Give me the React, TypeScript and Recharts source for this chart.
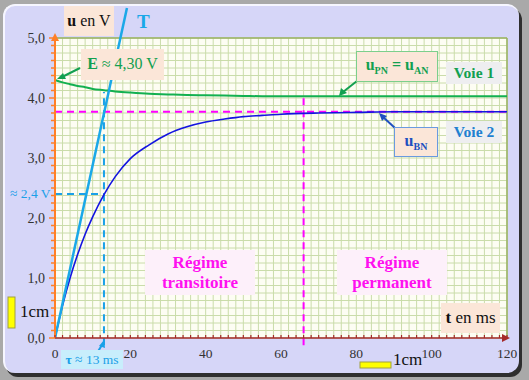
import { ComposedChart, Line, XAxis, YAxis, CartesianGrid, ReferenceLine } from "recharts";

const tMs = [0, 2, 4, 6, 8, 10, 13, 16, 20, 25, 30, 35, 40, 45, 50, 55, 60, 70, 80, 90, 100, 110, 120];
const uBN = [0, 0.54, 1.0, 1.39, 1.73, 2.02, 2.39, 2.69, 2.99, 3.22, 3.4, 3.52, 3.6, 3.65, 3.69, 3.71, 3.73, 3.75, 3.76, 3.77, 3.77, 3.77, 3.77];
const uPN = [4.3, 4.26, 4.23, 4.2, 4.18, 4.15, 4.13, 4.11, 4.09, 4.07, 4.06, 4.05, 4.045, 4.04, 4.035, 4.03, 4.03, 4.03, 4.03, 4.03, 4.03, 4.03, 4.03];

// tangent at origin (T)
const tangentT = [0, 19.1];
const tangentU = [0, 5.5];

const uFinal = 3.77;
const tau = 13;
const uTau = 2.4;
const tPermanent = 66;

const xMajor = [0, 20, 40, 60, 80, 100, 120];
const xLabels = ["0", "20", "40", "60", "80", "100", "120"];
const yLabels = ["0,0", "1,0", "2,0", "3,0", "4,0", "5,0"];

const data = tMs.map((t, i) => ({ t, uBN: uBN[i], uPN: uPN[i] }));
const xTicks = Array.from({ length: 61 }, (_, i) => i * 2);
const yTicks = Array.from({ length: 41 }, (_, i) => i * 0.125);

const serif = "'Liberation Serif', 'DejaVu Serif', serif";

function YTick(props: any) {
  const { x, y, payload } = props;
  const v = payload.value;
  const major = Math.abs(v - Math.round(v)) < 1e-6;
  return (
    <g>
      <line x1={x - (major ? 6 : 4)} x2={x} y1={y} y2={y} stroke="#ff7f27" strokeWidth={1.5} />
      {major && (
        <text x={x - 10} y={y} dy={5} textAnchor="end" fontFamily={serif} fontSize={14} fill="#333">
          {yLabels[Math.round(v)]}
        </text>
      )}
    </g>
  );
}

function XTick(props: any) {
  const { x, y, payload } = props;
  const v = payload.value;
  const idx = xMajor.indexOf(v);
  return (
    <g>
      <line x1={x} x2={x} y1={y - 3} y2={y} stroke="#a52a2a" strokeWidth={1.2} />
      {idx >= 0 && (
        <text x={x} y={y + 20} textAnchor="middle" fontFamily={serif} fontSize={13.5} fill="#333">
          {xLabels[idx]}
        </text>
      )}
    </g>
  );
}

const box = (extra: any) => ({
  position: "absolute" as const,
  fontFamily: serif,
  display: "flex",
  flexDirection: "column" as const,
  alignItems: "center",
  justifyContent: "center",
  boxSizing: "border-box" as const,
  lineHeight: 1.15,
  ...extra,
});

export default function App() {
  return (
    <div style={{ position: "absolute", left: 0, top: 0, width: 529, height: 380, background: "#a9a9a9", overflow: "hidden" }}>
      <div
        style={{
          position: "absolute",
          left: 3,
          top: 4,
          width: 516,
          height: 369,
          borderRadius: 12,
          background: "#d6d6f8",
          borderTop: "2px solid #f6f6ff",
          borderLeft: "2px solid #f6f6ff",
          boxShadow: "3px 4px 0 #2e2e2e",
          boxSizing: "border-box",
        }}
      />
      <div style={{ position: "absolute", left: 0, top: 0 }}>
        <ComposedChart width={529} height={380} data={data} margin={{ top: 38, right: 22, bottom: 12, left: 15 }}>
          <CartesianGrid fill="#fdfdf3" stroke="#cadcaa" strokeWidth={1} />
          <XAxis
            dataKey="t"
            type="number"
            domain={[0, 120]}
            ticks={xTicks}
            interval={0}
            height={30}
            tickSize={0}
            tickMargin={0}
            tick={<XTick />}
            axisLine={{ stroke: "#a52a2a", strokeWidth: 1.5 }}
            tickLine={false}
          />
          <YAxis
            type="number"
            domain={[0, 5]}
            allowDataOverflow
            ticks={yTicks}
            interval={0}
            width={40}
            tickSize={0}
            tickMargin={0}
            tick={<YTick />}
            axisLine={{ stroke: "#ff7f27", strokeWidth: 2 }}
            tickLine={false}
          />
          <ReferenceLine y={5} stroke="#98b060" strokeWidth={1.5} />
          <ReferenceLine x={120} stroke="#98b060" strokeWidth={1.5} />
          <ReferenceLine y={uFinal} stroke="#ff00ff" strokeWidth={2} strokeDasharray="7 5" />
          <ReferenceLine
            segment={[{ x: tPermanent, y: -0.12 }, { x: tPermanent, y: 4.03 }]}
            ifOverflow="visible"
            stroke="#ff00ff"
            strokeWidth={2}
            strokeDasharray="7 5"
          />
          <ReferenceLine
            segment={[{ x: tau, y: -0.12 }, { x: tau, y: 4.1 }]}
            ifOverflow="visible"
            stroke="#1aa0e8"
            strokeWidth={2}
            strokeDasharray="7 5"
          />
          <ReferenceLine
            segment={[{ x: 0, y: uTau }, { x: tau, y: uTau }]}
            ifOverflow="visible"
            stroke="#1aa0e8"
            strokeWidth={2}
            strokeDasharray="7 5"
          />
          <Line dataKey="uPN" type="monotone" stroke="#12b050" strokeWidth={2} dot={false} isAnimationActive={false} />
          <Line dataKey="uBN" type="monotone" stroke="#1414e0" strokeWidth={1.6} dot={false} isAnimationActive={false} />
          <ReferenceLine
            segment={[{ x: tangentT[0], y: tangentU[0] }, { x: tangentT[1], y: tangentU[1] }]}
            ifOverflow="visible"
            stroke="#1aa8e8"
            strokeWidth={2.5}
          />
        </ComposedChart>
      </div>

      {/* axis arrowheads and annotation arrows */}
      <svg width={529} height={380} style={{ position: "absolute", left: 0, top: 0, pointerEvents: "none" }}>
        <polygon points="55,33 51,41 59,41" fill="#ff7f27" />
        <polygon points="510,338 502,334 502,342" fill="#a52a2a" />
        <line x1={80} y1={68} x2={62} y2={77} stroke="#12a050" strokeWidth={2} />
        <polygon points="57,79 63,73 66,79" fill="#12a050" />
        <line x1={357} y1={81} x2={343} y2={92} stroke="#12a050" strokeWidth={2} />
        <polygon points="339,96 341,88 347,93" fill="#12a050" />
        <line x1={395} y1={128} x2={383} y2={117} stroke="#2050c0" strokeWidth={2} />
        <polygon points="379,113 387,116 382,121" fill="#2050c0" />
        <line x1={97} y1={353} x2={102} y2={345} stroke="#1aa0e8" strokeWidth={2} />
        <polygon points="104,340 99,346 105,348" fill="#1aa0e8" />
        <rect x={8} y={297} width={7} height={31} fill="#ffff00" stroke="#a0a040" strokeWidth={1} />
        <rect x={360} y={362} width={31} height={6} fill="#ffff00" stroke="#a0a040" strokeWidth={1} />
      </svg>

      <div style={box({ left: 64, top: 6, width: 50, height: 30, background: "#fbe6d8", fontSize: 16, color: "#111" })}>
        <span>
          <b>u</b> en V
        </span>
      </div>
      <div style={{ position: "absolute", left: 137, top: 11, fontFamily: serif, fontSize: 19, fontWeight: "bold", color: "#1aa8e8" }}>T</div>
      <div style={box({ left: 81, top: 49, width: 83, height: 31, background: "#fbe6d8", fontSize: 16, color: "#12a050" })}>
        <span>
          <b>E</b> ≈ 4,30 V
        </span>
      </div>
      <div
        style={box({
          left: 356,
          top: 51,
          width: 82,
          height: 31,
          background: "#fbe6d8",
          border: "1px solid #7ccf8c",
          fontSize: 16,
          fontWeight: "bold",
          color: "#12a050",
        })}
      >
        <span>
          u<sub style={{ fontSize: 10 }}>PN</sub> = u<sub style={{ fontSize: 10 }}>AN</sub>
        </span>
      </div>
      <div style={box({ left: 446, top: 62, width: 56, height: 22, background: "#eeeef0", fontSize: 15.5, fontWeight: "bold", color: "#12a050" })}>Voie 1</div>
      <div
        style={box({
          left: 394,
          top: 127,
          width: 44,
          height: 30,
          background: "#fbe6d8",
          border: "1px solid #6a9ae0",
          fontSize: 16,
          fontWeight: "bold",
          color: "#2050c0",
        })}
      >
        <span>
          u<sub style={{ fontSize: 10 }}>BN</sub>
        </span>
      </div>
      <div style={box({ left: 446, top: 121, width: 56, height: 22, background: "#eeeef0", fontSize: 15.5, fontWeight: "bold", color: "#2080d0" })}>Voie 2</div>
      <div style={box({ left: 145, top: 250, width: 110, height: 45, background: "#fdf0fa", fontSize: 17, fontWeight: "bold", color: "#ff10f0" })}>
        <div>Régime</div>
        <div>transitoire</div>
      </div>
      <div style={box({ left: 337, top: 250, width: 110, height: 45, background: "#fdf0fa", fontSize: 17, fontWeight: "bold", color: "#ff10f0" })}>
        <div>Régime</div>
        <div>permanent</div>
      </div>
      <div style={box({ left: 441, top: 303, width: 59, height: 30, background: "#fbe6d8", fontSize: 17, color: "#111" })}>
        <span>
          <b>t</b> en ms
        </span>
      </div>
      <div style={{ position: "absolute", left: 10, top: 186, fontFamily: serif, fontSize: 13.5, color: "#1aa0e8" }}>≈ 2,4 V</div>
      <div style={box({ left: 61, top: 350, width: 62, height: 19, background: "#c8eefc", fontSize: 13.5, color: "#1aa0e8" })}>
        <span>
          <b>τ</b> ≈ 13 ms
        </span>
      </div>
      <div style={{ position: "absolute", left: 20, top: 302, fontFamily: serif, fontSize: 17, color: "#111" }}>1cm</div>
      <div style={{ position: "absolute", left: 393, top: 350, fontFamily: serif, fontSize: 17, color: "#111" }}>1cm</div>
    </div>
  );
}
